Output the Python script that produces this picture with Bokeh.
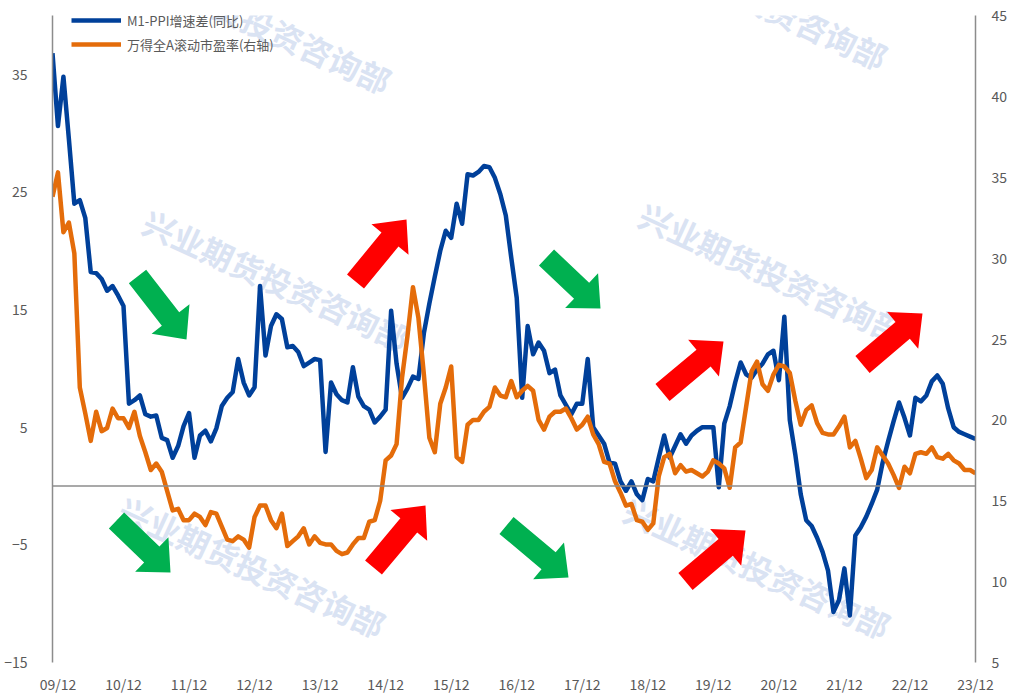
from math import hypot, radians
from bokeh.plotting import figure
from bokeh.models import Range1d, LinearAxis, FixedTicker, Span, Legend, LegendItem, Label
from bokeh.embed import file_html
from bokeh.resources import INLINE

# ---------------- data ----------------
# month index: -1 = 2009-11, 0 = 2009-12, ..., 168 = 2023-12
month_index = list(range(-1, 169))

m1_ppi = [
    36.8, 30.6, 34.8, 29.5, 24.0, 24.3, 22.8, 18.2, 18.1, 17.6, 16.6,
    17.0, 16.2, 15.3, 7.0, 7.3, 7.7, 6.1, 5.9, 6.0, 4.1,
    3.9, 2.4, 3.4, 5.1, 6.2, 2.4, 4.3, 4.7, 3.8, 4.9,
    6.8, 7.5, 8.0, 10.8, 8.8, 7.7, 8.4, 17.0, 11.1, 13.6,
    14.6, 14.2, 11.8, 11.9, 11.4, 10.2, 10.5, 10.8, 10.7, 2.9,
    8.8, 7.8, 7.3, 7.1, 10.1, 7.6, 6.8, 6.5, 5.4, 5.9,
    6.5, 14.9, 10.4, 7.5, 8.3, 9.3, 9.1, 13.0, 15.5, 17.8,
    20.0, 21.7, 21.1, 24.0, 22.3, 26.5, 26.4, 26.7, 27.2, 27.1,
    26.2, 24.8, 23.0, 19.4, 16.0, 7.5, 13.6, 11.2, 12.2, 11.5,
    9.6, 9.9, 7.7, 6.9, 6.1, 7.0, 7.0, 10.8, 5.0, 4.3,
    3.6, 2.0, 1.9, 0.4, -0.4, 0.4, -0.7, -1.2, 0.6, 0.4,
    2.4, 4.3, 2.4, 3.4, 4.4, 3.6, 4.3, 4.7, 5.0, 5.0,
    5.0, -0.1, 5.3, 6.8, 8.8, 10.5, 9.5, 9.2, 9.9, 10.4,
    11.2, 11.5, 9.0, 14.4, 5.6, 2.7, -0.7, -2.9, -3.4, -4.4,
    -5.6, -7.2, -10.7, -9.7, -7.0, -11.0, -4.2, -3.5, -2.6, -1.5,
    -0.3, 2.0, 3.8, 5.5, 7.1, 5.8, 4.3, 7.5, 7.2, 7.7,
    8.9, 9.4, 8.7, 6.6, 5.0, 4.6, 4.4, 4.2, 4.0,
]

pe_ttm = [
    33.8, 35.3, 31.6, 32.2, 30.3, 22.0, 20.4, 18.7, 20.5, 19.3, 19.5,
    20.7, 20.1, 20.1, 19.5, 20.5, 19.0, 18.0, 16.9, 17.3, 16.8,
    15.6, 14.4, 14.5, 13.8, 13.8, 14.2, 14.0, 13.5, 14.3, 14.2,
    13.4, 12.6, 12.5, 12.8, 12.6, 12.1, 14.0, 14.7, 14.7, 13.8,
    13.3, 14.2, 12.2, 12.5, 12.8, 13.3, 12.3, 12.8, 12.4, 12.3,
    12.3, 11.9, 11.7, 11.8, 12.3, 12.7, 12.7, 13.7, 13.8, 15.0,
    17.5, 17.8, 18.5, 22.6, 25.2, 28.2, 26.3, 22.8, 18.9, 18.0,
    21.0, 22.0, 23.3, 17.7, 17.4, 19.7, 20.0, 20.0, 20.5, 20.8,
    22.0, 21.5, 21.4, 22.4, 21.4, 21.8, 22.1, 21.8, 20.0, 19.4,
    20.2, 20.5, 20.5, 20.7, 20.1, 19.4, 19.7, 20.2, 19.1, 18.5,
    17.4, 17.3, 16.2, 15.5, 14.7, 14.8, 13.8, 13.7, 13.2, 13.6,
    16.5, 17.7, 17.9, 16.7, 17.2, 16.8, 16.9, 16.7, 16.5, 16.8,
    17.5, 17.3, 17.0, 15.8, 18.3, 18.6, 20.8, 23.0, 23.6, 22.2,
    21.8, 22.8, 23.4, 23.3, 22.9, 21.2, 19.7, 20.6, 20.9, 19.8,
    19.2, 19.1, 19.1, 19.6, 20.2, 18.3, 18.7, 17.6, 16.4, 16.9,
    18.3, 17.8, 17.3, 16.6, 15.8, 17.1, 16.7, 17.9, 18.0, 17.9,
    18.3, 17.7, 17.6, 17.9, 17.5, 17.3, 16.9, 16.9, 16.7,
]

x_tick_labels = ["09/12", "10/12", "11/12", "12/12", "13/12", "14/12", "15/12", "16/12",
                 "17/12", "18/12", "19/12", "20/12", "21/12", "22/12", "23/12"]
x_tick_pos = list(range(0, 169, 12))
left_ticks = [-15, -5, 5, 15, 25, 35]
right_ticks = [5, 10, 15, 20, 25, 30, 35, 40, 45]

name_blue = "M1-PPI增速差(同比)"
name_orange = "万得全A滚动市盈率(右轴)"
watermark_text = "兴业期货投资咨询部"

# ---------------- layout constants ----------------
XMIN, XMAX = -1, 168
YMIN, YMAX = -15, 40
FX, FY, FW, FH = 52, 15, 923, 647   # frame position in the reference (px)

BLUE = "#00409A"
ORANGE = "#E46C0A"
AXIS_GREY = "#8C8C8C"
TXT = "#595959"
FONT = "Noto Sans CJK SC"


def to_data(px, py):
    return (XMIN + (px - FX) / FW * (XMAX - XMIN),
            YMAX - (py - FY) / FH * (YMAX - YMIN))


p = figure(frame_width=FW, frame_height=FH,
           x_range=Range1d(XMIN, XMAX), y_range=Range1d(YMIN, YMAX),
           output_backend="svg", toolbar_location=None,
           min_border_left=FX, min_border_top=FY, min_border_right=26, min_border_bottom=0)
p.extra_y_ranges = {"right": Range1d(5, 45)}
p.outline_line_color = None
p.xgrid.visible = False
p.ygrid.visible = False
p.background_fill_color = "white"
p.border_fill_color = "white"

# ---------------- watermarks ----------------
wm_centers = [(258, 22), (754, -2), (276, 279), (772, 272), (252, 566), (757, 567)]
for cx, cy in wm_centers:
    dx, dy = to_data(cx, cy)
    p.add_layout(Label(x=dx, y=dy, text=watermark_text, angle=radians(-24.7),
                       text_align="center", text_baseline="middle",
                       text_color="#DAE3F3", text_font=FONT, text_font_style="bold",
                       text_font_size="32px", level="underlay"))

# ---------------- zero line ----------------
p.add_layout(Span(location=0, dimension="width", line_color=AXIS_GREY, line_width=1.5))

# ---------------- series ----------------
r_blue = p.line(month_index, m1_ppi, line_color=BLUE, line_width=4.5, line_join="round")
r_orange = p.line(month_index, pe_ttm, line_color=ORANGE, line_width=4.5, line_join="round",
                  y_range_name="right")

# ---------------- arrows (tail, tip, colour) ----------------
arrows = [
    ((355, 281), (406, 219), "#FF0000"),
    ((373, 567), (425, 505), "#FF0000"),
    ((662, 392), (723, 341), "#FF0000"),
    ((685, 581), (745, 530), "#FF0000"),
    ((862, 364), (922, 313), "#FF0000"),
    ((137, 276), (186, 339), "#00B050"),
    ((116, 520), (170, 572), "#00B050"),
    ((546, 257), (600, 308), "#00B050"),
    ((506, 525), (568, 577), "#00B050"),
]
SHAFT, HEAD_W, HEAD_L = 22, 48, 26
axs, ays, acols = [], [], []
for (tx, ty), (hx, hy), col in arrows:
    L = hypot(hx - tx, hy - ty)
    ux, uy = (hx - tx) / L, (hy - ty) / L
    nx, ny = -uy, ux
    bx, by = hx - HEAD_L * ux, hy - HEAD_L * uy
    pts = [(tx + nx * SHAFT / 2, ty + ny * SHAFT / 2),
           (bx + nx * SHAFT / 2, by + ny * SHAFT / 2),
           (bx + nx * HEAD_W / 2, by + ny * HEAD_W / 2),
           (hx, hy),
           (bx - nx * HEAD_W / 2, by - ny * HEAD_W / 2),
           (bx - nx * SHAFT / 2, by - ny * SHAFT / 2),
           (tx - nx * SHAFT / 2, ty - ny * SHAFT / 2)]
    d = [to_data(a, b) for a, b in pts]
    axs.append([q[0] for q in d])
    ays.append([q[1] for q in d])
    acols.append(col)
p.patches(axs, ays, fill_color=acols, line_color=None)

# ---------------- axes ----------------
yl = p.yaxis[0]
yl.ticker = FixedTicker(ticks=left_ticks)
yl.axis_line_color = AXIS_GREY
yl.axis_line_width = 1.5
yl.major_tick_line_color = None
yl.minor_tick_line_color = None
yl.major_label_text_color = TXT
yl.major_label_text_font = FONT
yl.major_label_text_font_size = "14px"
yl.major_label_standoff = 19

yr = LinearAxis(y_range_name="right", ticker=FixedTicker(ticks=right_ticks))
yr.axis_line_color = AXIS_GREY
yr.axis_line_width = 1.5
yr.major_tick_line_color = None
yr.minor_tick_line_color = None
yr.major_label_text_color = TXT
yr.major_label_text_font = FONT
yr.major_label_text_font_size = "14px"
yr.major_label_standoff = 10
p.add_layout(yr, "right")

xa = p.xaxis[0]
xa.ticker = FixedTicker(ticks=x_tick_pos)
xa.major_label_overrides = {pos: lab for pos, lab in zip(x_tick_pos, x_tick_labels)}
xa.axis_line_color = None
xa.major_tick_line_color = None
xa.minor_tick_line_color = None
xa.major_label_text_color = TXT
xa.major_label_text_font = FONT
xa.major_label_text_font_size = "14px"
xa.major_label_standoff = 5

# ---------------- legend ----------------
legend = Legend(items=[LegendItem(label=name_blue, renderers=[r_blue]),
                       LegendItem(label=name_orange, renderers=[r_orange])],
                location=(19, 608), orientation="vertical",
                padding=0, margin=0, spacing=4,
                glyph_width=50, glyph_height=20, label_height=20, label_standoff=6,
                label_text_font=FONT, label_text_font_size="13px", label_text_color=TXT,
                border_line_color=None, background_fill_alpha=0)
p.add_layout(legend)

open("out.html", "w").write(file_html(p, INLINE))
